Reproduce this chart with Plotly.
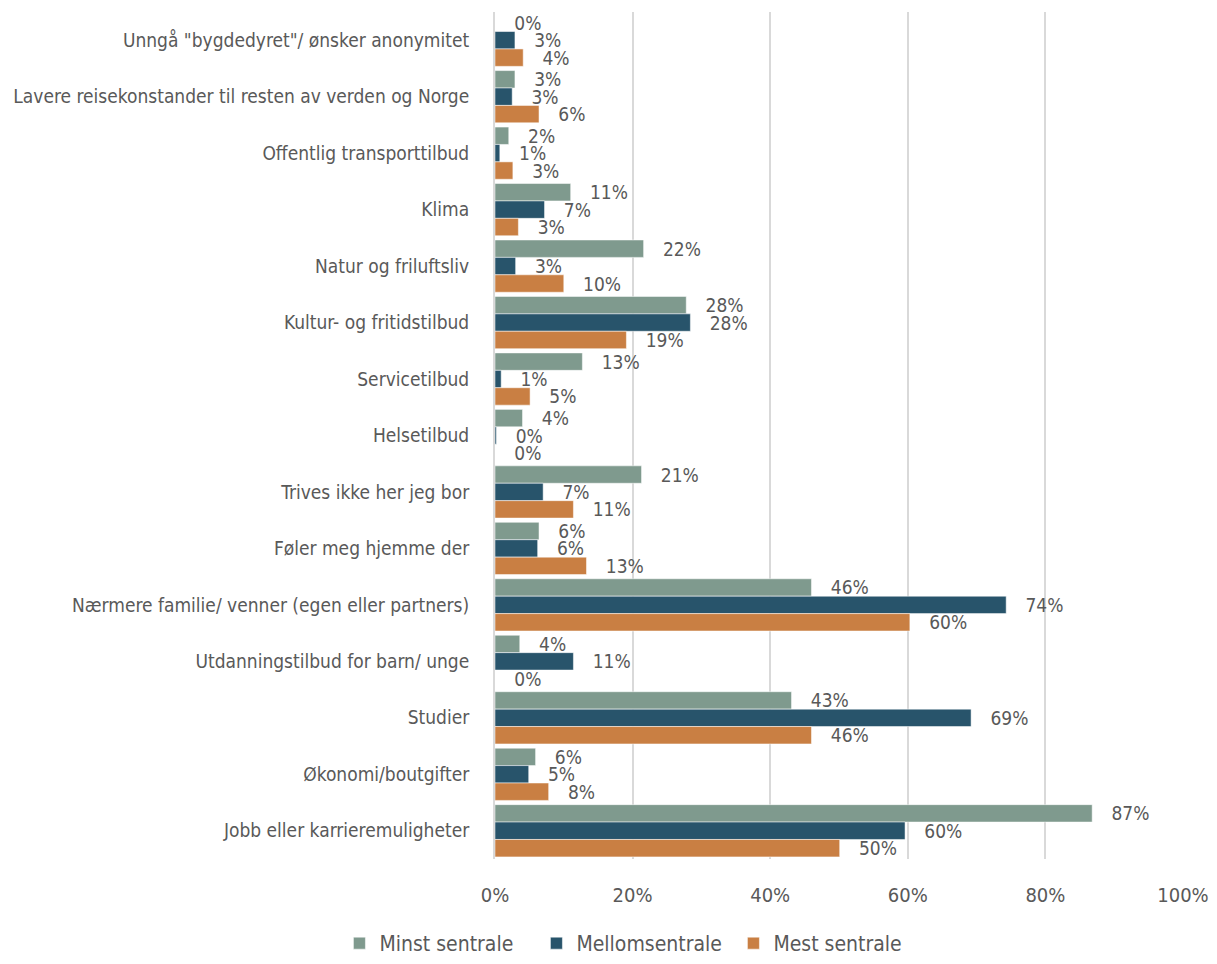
import plotly.graph_objects as go

categories = [
    'Unngå "bygdedyret"/ ønsker anonymitet',
    'Lavere reisekonstander til resten av verden og Norge',
    'Offentlig transporttilbud',
    'Klima',
    'Natur og friluftsliv',
    'Kultur- og fritidstilbud',
    'Servicetilbud',
    'Helsetilbud',
    'Trives ikke her jeg bor',
    'Føler meg hjemme der',
    'Nærmere familie/ venner (egen eller partners)',
    'Utdanningstilbud for barn/ unge',
    'Studier',
    'Økonomi/boutgifter',
    'Jobb eller karrieremuligheter',
]

minst = [0.0, 0.029, 0.020, 0.110, 0.216, 0.278, 0.127, 0.040, 0.213, 0.064, 0.460, 0.036, 0.431, 0.059, 0.868]
mellom = [0.029, 0.025, 0.007, 0.072, 0.030, 0.284, 0.009, 0.002, 0.070, 0.062, 0.743, 0.114, 0.692, 0.049, 0.596]
mest = [0.041, 0.064, 0.026, 0.034, 0.100, 0.191, 0.051, 0.0, 0.114, 0.133, 0.603, 0.0, 0.460, 0.078, 0.501]

series_names = ["Minst sentrale", "Mellomsentrale", "Mest sentrale"]
series_values = [minst, mellom, mest]
colors = ["#7F9A8E", "#28546B", "#C97F43"]

FONT = "DejaVu Sans Condensed, Liberation Sans Narrow, Roboto, sans-serif"
TXT = "#595959"

fig = go.Figure()
for name, vals, col in zip(series_names, series_values, colors):
    fig.add_trace(go.Bar(
        name=name, y=categories, x=vals, orientation="h",
        marker=dict(color=col, line=dict(color="rgba(255,255,255,0.5)", width=1)),
        text=vals, texttemplate="   %{x:.0%}", textposition="outside",
        constraintext="none", cliponaxis=False,
        textfont=dict(family=FONT, size=19, color=TXT),
    ))

fig.update_layout(
    width=1201, height=956,
    barmode="group", bargap=0.075, bargroupgap=0,
    plot_bgcolor="white", paper_bgcolor="white",
    margin=dict(l=487, r=26, t=4, b=105),
    font=dict(family=FONT, color=TXT, size=19),
    legend=dict(orientation="h", x=0.522, xanchor="center", xref="container",
                y=0, yanchor="bottom", yref="container",
                font=dict(family=FONT, size=21, color=TXT),
                entrywidth=152, traceorder="normal"),
    xaxis=dict(range=[0, 1], tickformat=".0%", dtick=0.2, showgrid=True,
               gridcolor="#D9D9D9", gridwidth=1.5, zeroline=False,
               tickfont=dict(family=FONT, size=20, color=TXT), ticks="",
               ticklabelstandoff=22, showline=False, automargin=False,
               ticklabeloverflow="allow"),
    yaxis=dict(autorange="reversed", showline=True, linecolor="#D9D9D9", linewidth=2,
               tickfont=dict(family=FONT, size=19, color=TXT), ticks="",
               ticklabelstandoff=20, automargin=False),
)

fig.write_html("out.html")
